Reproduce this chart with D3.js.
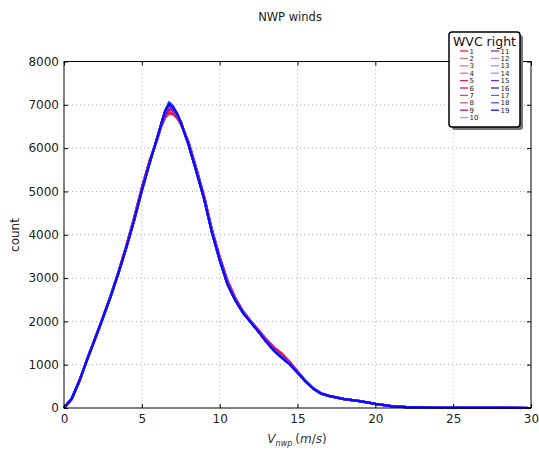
<!DOCTYPE html>
<html><head><meta charset="utf-8">
<script src="https://cdn.jsdelivr.net/npm/d3@7"></script>
<style>body{margin:0;background:#fff;} text{font-family:"DejaVu Sans",sans-serif;}</style>
</head><body>
<svg id="c" width="539" height="450"></svg>
<script>
const title = "NWP winds";
const yLabel = "count";
const legendTitle = "WVC right";
const xTicks = [0,5,10,15,20,25,30];
const yTicks = [0,1000,2000,3000,4000,5000,6000,7000,8000];
const seriesNames = ["1","2","3","4","5","6","7","8","9","10","11","12","13","14","15","16","17","18","19"];
const seriesColors = ["#ff1a1a","#f07080","#f07888","#e87090","#e0206a","#d01860","#c05090","#b060a0","#a01890","#c890d0",
                      "#8a30b0","#b890e0","#a890e8","#a090f0","#6030e8","#2020ff","#6060f0","#5050f0","#0a0aff"];
const windSpeed = [0,0.5,1,1.5,2,2.5,3,3.5,4,4.5,5,5.5,6,6.25,6.5,6.75,7,7.25,7.5,8,8.5,9,9.5,10,10.5,11,11.5,12,12.5,13,13.5,14,14.5,15,15.5,16,16.5,17,18,19,20,21,22,24,26,30];
const s1  = [0,200,620,1150,1620,2100,2600,3150,3750,4400,5100,5720,6200,6500,6700,6800,6780,6700,6550,6150,5540,4900,4130,3500,2950,2550,2240,2010,1800,1590,1400,1260,1070,850,640,465,345,285,207,160,97,47,20,8,3,0];
const s2  = [0,210,630,1140,1610,2090,2590,3130,3720,4360,5060,5690,6230,6540,6780,6900,6860,6720,6580,6120,5510,4870,4100,3470,2910,2520,2220,1995,1780,1560,1360,1200,1040,835,630,458,340,282,206,160,96,46,19,7,3,0];
const s3  = [0,215,635,1135,1605,2085,2585,3125,3710,4350,5040,5680,6240,6550,6820,6950,6900,6760,6590,6100,5490,4850,4080,3440,2880,2505,2210,1990,1770,1545,1335,1175,1020,825,625,455,338,281,205,160,95,45,18,6,3,0];
const s4  = [0,205,625,1145,1615,2095,2595,3140,3730,4370,5070,5700,6220,6520,6760,6880,6850,6740,6570,6130,5520,4880,4110,3480,2920,2530,2225,2000,1785,1570,1380,1220,1050,840,632,460,342,283,206,160,96,46,19,7,3,0];
const s5  = [0,202,622,1148,1618,2098,2598,3148,3745,4390,5090,5710,6210,6510,6720,6830,6800,6710,6560,6140,5530,4890,4120,3490,2940,2540,2235,2005,1795,1585,1395,1250,1065,848,638,463,344,284,207,160,97,47,20,7,3,0];
const s6  = [0,208,628,1142,1612,2092,2592,3135,3725,4365,5065,5695,6225,6535,6790,6920,6880,6730,6575,6125,5505,4865,4095,3460,2900,2515,2215,1993,1775,1555,1350,1190,1035,832,628,457,339,282,206,160,96,46,19,7,3,0];
const s7  = [0,212,632,1138,1608,2088,2588,3128,3715,4355,5050,5685,6235,6545,6810,6970,6920,6770,6595,6105,5485,4845,4075,3435,2875,2500,2208,1988,1768,1542,1332,1172,1018,824,624,454,337,281,205,160,95,45,18,6,3,0];
const s8  = [0,218,638,1132,1602,2082,2582,3122,3705,4340,5030,5670,6245,6555,6830,7000,6940,6780,6600,6095,5478,4838,4068,3428,2868,2496,2204,1984,1764,1536,1326,1166,1014,822,622,452,336,280,205,160,95,45,18,6,3,0];
const s9  = [0,206,626,1144,1614,2094,2594,3138,3728,4368,5068,5698,6228,6528,6770,6890,6870,6750,6580,6128,5515,4875,4105,3475,2915,2525,2222,1998,1782,1565,1370,1210,1045,838,631,459,341,283,206,160,96,46,19,7,3,0];
const s10 = [0,216,636,1134,1604,2084,2584,3124,3708,4345,5035,5675,6242,6552,6840,6980,6935,6775,6598,6098,5480,4840,4070,3430,2870,2498,2206,1986,1766,1538,1328,1168,1016,823,623,453,336,280,205,160,95,45,18,6,3,0];
const s11 = [0,219,639,1131,1601,2081,2581,3121,3702,4335,5025,5665,6248,6558,6845,7010,6945,6790,6602,6090,5474,4834,4064,3424,2864,2493,2202,1982,1762,1533,1323,1163,1012,821,621,451,335,280,205,160,95,45,18,6,3,0];
const s12 = [0,221,641,1129,1599,2079,2579,3119,3698,4328,5018,5658,6252,6562,6855,7030,6950,6800,6605,6085,5472,4832,4062,3422,2862,2491,2201,1981,1761,1531,1321,1161,1011,820,620,450,335,280,205,160,95,45,18,6,3,0];
const s13 = [0,220,640,1130,1600,2080,2580,3120,3700,4330,5020,5660,6250,6560,6850,7020,6930,6800,6600,6080,5470,4830,4060,3420,2860,2490,2200,1980,1760,1530,1320,1160,1010,820,620,450,335,280,205,160,95,45,18,6,3,0];
const s14 = [0,222,642,1128,1598,2078,2578,3118,3696,4325,5015,5655,6255,6565,6860,7040,6960,6805,6608,6082,5468,4828,4058,3418,2858,2489,2199,1979,1759,1529,1319,1159,1009,819,619,449,334,279,204,159,94,44,18,6,3,0];
const s15 = [0,219,639,1131,1601,2081,2581,3121,3702,4332,5022,5662,6248,6558,6840,6990,6925,6795,6598,6078,5466,4826,4056,3416,2856,2488,2198,1978,1758,1528,1318,1158,1008,818,618,449,334,279,204,159,94,44,18,6,3,0];
const s16 = [0,223,643,1127,1597,2077,2577,3117,3694,4322,5012,5652,6258,6568,6865,7060,6970,6810,6610,6076,5464,4824,4054,3414,2854,2487,2197,1977,1757,1527,1317,1157,1007,817,617,448,333,279,204,159,94,44,17,6,3,0];
const s17 = [0,220,641,1129,1599,2080,2579,3119,3699,4331,5021,5661,6251,6561,6852,7025,6938,6802,6601,6079,5469,4829,4059,3419,2859,2490,2200,1980,1760,1530,1320,1160,1010,820,620,450,335,280,205,160,95,45,18,6,3,0];
const s18 = [0,221,642,1128,1598,2079,2578,3118,3697,4327,5017,5657,6254,6564,6858,7035,6955,6803,6604,6081,5471,4831,4061,3421,2861,2491,2201,1981,1761,1531,1321,1161,1011,820,620,450,335,280,205,160,95,45,18,6,3,0];
const s19 = [0,220,640,1130,1600,2080,2580,3120,3700,4330,5020,5660,6250,6560,6850,7020,6930,6800,6600,6080,5470,4830,4060,3420,2860,2490,2200,1980,1760,1530,1320,1160,1010,820,620,450,335,280,205,160,95,45,18,6,3,0];
const seriesValues = [s1,s2,s3,s4,s5,s6,s7,s8,s9,s10,s11,s12,s13,s14,s15,s16,s17,s18,s19];

const svg = d3.select("#c");
svg.append("rect").attr("width",539).attr("height",450).attr("fill","#fff");
const L=64, R=531, T=61.5, B=408;
const x = d3.scaleLinear().domain([0,30]).range([L,R]);
const y = d3.scaleLinear().domain([0,8000]).range([B,T]);

// grid
const g = svg.append("g");
g.selectAll(".gx").data(xTicks.slice(1,-1)).enter().append("line")
  .attr("x1",d=>x(d)).attr("x2",d=>x(d)).attr("y1",T).attr("y2",B)
  .attr("stroke","#999").attr("stroke-width",0.8).attr("stroke-dasharray","1,3");
g.selectAll(".gy").data(yTicks.slice(1,-1)).enter().append("line")
  .attr("y1",d=>y(d)).attr("y2",d=>y(d)).attr("x1",L).attr("x2",R)
  .attr("stroke","#999").attr("stroke-width",0.8).attr("stroke-dasharray","1,3");

// lines
const line = d3.line().x((d,i)=>x(windSpeed[i])).y(d=>y(d));
seriesValues.forEach((vals,k)=>{
  svg.append("path").datum(vals).attr("d",line).attr("fill","none")
    .attr("stroke",seriesColors[k]).attr("stroke-width",2.2).attr("stroke-linejoin","round");
});

// axes (ticks inward)
const ax = d3.axisBottom(x).tickValues(xTicks).tickSize(-4).tickPadding(6).tickFormat(d3.format("d"));
const ay = d3.axisLeft(y).tickValues(yTicks).tickSize(-4).tickPadding(5).tickFormat(d3.format("d"));
const gx = svg.append("g").attr("transform",`translate(0,${B})`).call(ax);
const gy = svg.append("g").attr("transform",`translate(${L},0)`).call(ay);
const gx2 = svg.append("g").attr("transform",`translate(0,${T})`).call(d3.axisTop(x).tickValues(xTicks).tickSize(-4).tickFormat(""));
const gy2 = svg.append("g").attr("transform",`translate(${R},0)`).call(d3.axisRight(y).tickValues(yTicks).tickSize(-4).tickFormat(""));
[gx,gy,gx2,gy2].forEach(a=>{
  a.select(".domain").remove();
  a.selectAll("line").attr("stroke","#000");
  a.selectAll("text").attr("font-size","12px").attr("fill","#222").attr("font-family","DejaVu Sans");
});
svg.append("rect").attr("x",L).attr("y",T).attr("width",R-L).attr("height",B-T)
  .attr("fill","none").attr("stroke","#000").attr("stroke-width",1);

// title and labels
svg.append("text").attr("x",290).attr("y",21).attr("text-anchor","middle").attr("font-size","11.5px").attr("fill","#222").text(title);
svg.append("text").attr("transform","translate(19,235) rotate(-90)").attr("text-anchor","middle").attr("font-size","12px").attr("fill","#222").text(yLabel);
const xl = svg.append("text").attr("x",297).attr("y",443).attr("text-anchor","middle")
  .attr("font-family","DejaVu Serif").attr("font-size","12px").attr("fill","#333");
xl.append("tspan").attr("font-style","italic").text("V");
xl.append("tspan").attr("font-style","italic").attr("font-size","8px").attr("dy",3).text("nwp");
xl.append("tspan").attr("dy",-3).attr("dx",3).text("(");
xl.append("tspan").attr("font-style","italic").text("m");
xl.append("tspan").text("/");
xl.append("tspan").attr("font-style","italic").text("s");
xl.append("tspan").text(")");

// legend
const lx=449, ly=32, lw=71, lh=95;
svg.append("rect").attr("x",lx+3).attr("y",ly+3).attr("width",lw).attr("height",lh).attr("rx",3).attr("fill","#777");
svg.append("rect").attr("x",lx).attr("y",ly).attr("width",lw).attr("height",lh).attr("rx",3)
  .attr("fill","#fff").attr("stroke","#000").attr("stroke-width",1.5);
svg.append("text").attr("x",lx+lw/2).attr("y",ly+14).attr("text-anchor","middle").attr("font-size","12.5px").attr("fill","#111").text(legendTitle);
seriesNames.forEach((nm,i)=>{
  const col = i<10?0:1, row = i<10?i:i-10;
  const ex = col===0?460:491, ey = 51 + row*7.4;
  svg.append("line").attr("x1",ex).attr("x2",ex+8).attr("y1",ey).attr("y2",ey)
    .attr("stroke",seriesColors[i]).attr("stroke-width",1.3);
  svg.append("text").attr("x",ex+9.5).attr("y",ey+2.6).attr("font-size","7px").attr("fill","#222").text(nm);
});
</script>
</body></html>
